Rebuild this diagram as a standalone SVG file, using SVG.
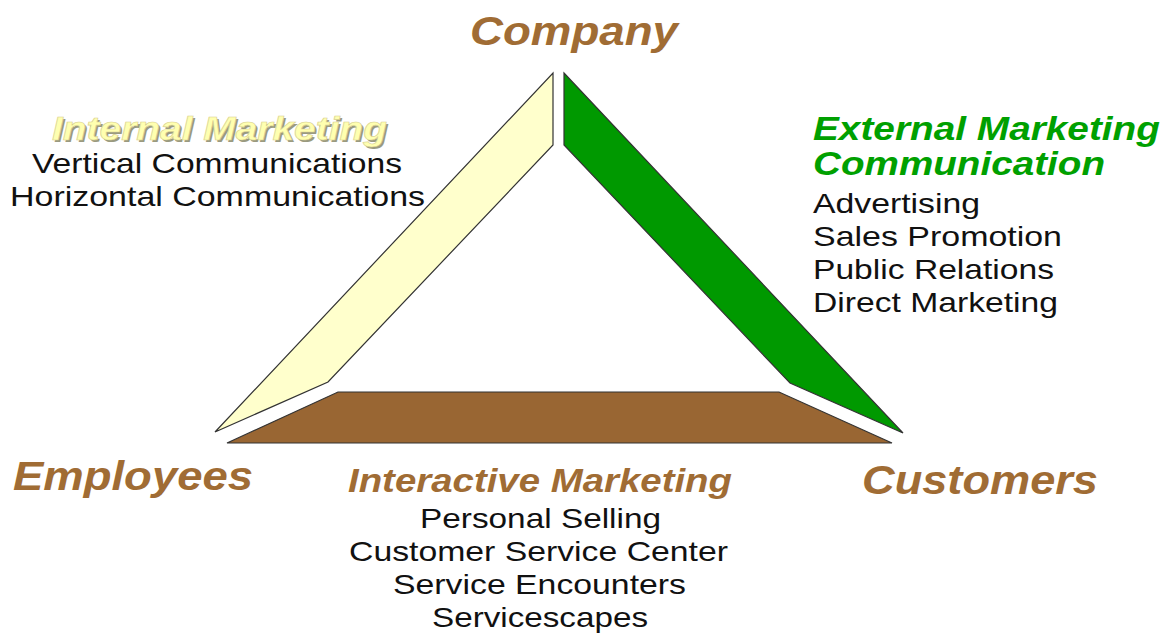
<svg xmlns="http://www.w3.org/2000/svg" width="1164" height="635" viewBox="0 0 1164 635">
<style>
.shape{stroke:#333;stroke-width:1.2;stroke-linejoin:miter}
.big{font-family:"Liberation Sans",Arial,sans-serif;font-weight:bold;font-style:italic;font-size:41px;fill:#A06C34}
.head{font-family:"Liberation Sans",Arial,sans-serif;font-weight:bold;font-style:italic;font-size:33px}
.body{font-family:"Liberation Sans",Arial,sans-serif;font-size:28px;fill:#111}
</style>
<rect width="1164" height="635" fill="#fff"/>
<g id="connectors">
<polygon id="internal-bar" class="shape" fill="#FFFFCC" points="553,73 553,145 328,382 215,432"/>
<polygon id="external-bar" class="shape" fill="#009900" points="564,73 903,433 790,383 564,145"/>
<polygon id="interactive-bar" class="shape" fill="#996633" points="338,392 779,392 892,443 227,443"/>
</g>
<g id="company"><text class="big" x="470" y="45" textLength="208" lengthAdjust="spacingAndGlyphs">Company</text></g>
<g id="employees"><text class="big" x="13" y="490" textLength="240" lengthAdjust="spacingAndGlyphs">Employees</text></g>
<g id="customers"><text class="big" x="862" y="494" textLength="236" lengthAdjust="spacingAndGlyphs">Customers</text></g>
<g id="internal-marketing">
<text class="head" x="54" y="142" font-size="31" textLength="335" lengthAdjust="spacingAndGlyphs" fill="#9a9a80">Internal Marketing</text>
<text class="head" x="52" y="140" font-size="31" textLength="335" lengthAdjust="spacingAndGlyphs" fill="#FFFFB0" stroke="#d8d090" stroke-width="0.6">Internal Marketing</text>
<text class="body" x="32" y="173" textLength="370" lengthAdjust="spacingAndGlyphs">Vertical Communications</text>
<text class="body" x="10" y="206" textLength="415" lengthAdjust="spacingAndGlyphs">Horizontal Communications</text>
</g>
<g id="external-marketing">
<text class="head" x="813" y="140" textLength="347" lengthAdjust="spacingAndGlyphs" fill="#00A000">External Marketing</text>
<text class="head" x="813" y="175" textLength="292" lengthAdjust="spacingAndGlyphs" fill="#00A000">Communication</text>
<text class="body" x="813" y="213" textLength="167" lengthAdjust="spacingAndGlyphs">Advertising</text>
<text class="body" x="813" y="246" textLength="249" lengthAdjust="spacingAndGlyphs">Sales Promotion</text>
<text class="body" x="813" y="279" textLength="241" lengthAdjust="spacingAndGlyphs">Public Relations</text>
<text class="body" x="813" y="312" textLength="245" lengthAdjust="spacingAndGlyphs">Direct Marketing</text>
</g>
<g id="interactive-marketing">
<text class="head" x="348" y="492" textLength="384" lengthAdjust="spacingAndGlyphs" fill="#A06C34">Interactive Marketing</text>
<text class="body" x="420" y="528" textLength="241" lengthAdjust="spacingAndGlyphs">Personal Selling</text>
<text class="body" x="349" y="561" textLength="379" lengthAdjust="spacingAndGlyphs">Customer Service Center</text>
<text class="body" x="393" y="594" textLength="293" lengthAdjust="spacingAndGlyphs">Service Encounters</text>
<text class="body" x="432" y="627" textLength="216" lengthAdjust="spacingAndGlyphs">Servicescapes</text>
</g>
</svg>
